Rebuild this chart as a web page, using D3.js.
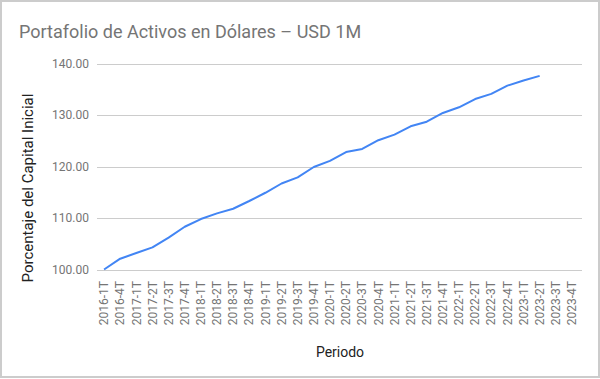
<!DOCTYPE html>
<html>
<head>
<meta charset='utf-8'>
<style>
body { margin: 0; background: #fff; }
svg { display: block; font-family: Roboto, 'Noto Sans', Arial, sans-serif; }
.grid line { stroke: #cccccc; stroke-width: 1px; }
.tick-y { fill: #757575; font-size: 12px; }
.tick-x { fill: #757575; font-size: 12px; }
</style>
</head>
<body>
<svg width="600" height="379"></svg>
<script src="https://d3js.org/d3.v7.min.js"></script>
<script>

// periodos (trimestres) del eje x
var periodos = ["2016-1T","2016-4T",
  "2017-1T","2017-2T","2017-3T","2017-4T",
  "2018-1T","2018-2T","2018-3T","2018-4T",
  "2019-1T","2019-2T","2019-3T","2019-4T",
  "2020-1T","2020-2T","2020-3T","2020-4T",
  "2021-1T","2021-2T","2021-3T","2021-4T",
  "2022-1T","2022-2T","2022-3T","2022-4T",
  "2023-1T","2023-2T","2023-3T","2023-4T"];

// porcentaje del capital inicial (hasta 2023-2T)
var valores = [100.0, 102.1, 103.2, 104.3, 106.2, 108.3, 109.8, 110.9, 111.8, 113.3,
  114.9, 116.7, 117.9, 119.9, 121.1, 122.8, 123.4, 125.1, 126.2, 127.8,
  128.7, 130.4, 131.5, 133.1, 134.1, 135.7, 136.7, 137.6];

var yTicks = [100, 110, 120, 130, 140];

var svg = d3.select('svg'),
    width = 600,
    height = 379;

// borde del gráfico
svg.append('rect')
  .attr('x', 1).attr('y', 1)
  .attr('width', width - 2).attr('height', height - 3)
  .attr('fill', '#fff')
  .attr('stroke', '#cccccc')
  .attr('stroke-width', 2);

var x = d3.scaleBand().domain(periodos).range([96, 580]),
    y = d3.scaleLinear().domain([100, 140]).range([269.5, 63.5]);

var xc = function(d) { return x(d) + x.bandwidth() / 2; };

// title
svg.append('text')
  .attr('x', 19).attr('y', 38)
  .attr('fill', '#757575')
  .attr('font-size', '18px')
  .text('Portafolio de Activos en Dólares – USD 1M');

// gridlines
svg.append('g').attr('class', 'grid')
  .selectAll('line')
  .data(yTicks)
  .enter().append('line')
    .attr('x1', 97).attr('x2', 582)
    .attr('y1', function(d) { return Math.round(y(d)) + 0.5; })
    .attr('y2', function(d) { return Math.round(y(d)) + 0.5; });

svg.append('g')
  .selectAll('text')
  .data(yTicks)
  .enter().append('text')
    .attr('class', 'tick-y')
    .attr('x', 89)
    .attr('y', function(d) { return y(d); })
    .attr('dy', '0.35em')
    .attr('text-anchor', 'end')
    .text(function(d) { return d3.format('.2f')(d); });

// etiquetas x rotadas
svg.append('g')
  .selectAll('text')
  .data(periodos)
  .enter().append('text')
    .attr('class', 'tick-x')
    .attr('text-anchor', 'end')
    .attr('dy', '0.35em')
    .attr('transform', function(d) { return 'translate(' + xc(d) + ',281) rotate(-90)'; })
    .text(function(d) { return d; });

// axis titles
svg.append('text')
  .attr('transform', 'translate(33,188) rotate(-90)')
  .attr('text-anchor', 'middle')
  .attr('fill', '#222')
  .attr('font-size', '15px')
  .text('Porcentaje del Capital Inicial');

svg.append('text')
  .attr('x', 340).attr('y', 357)
  .attr('text-anchor', 'middle')
  .attr('fill', '#222')
  .attr('font-size', '14px')
  .text('Periodo');

// la serie
var line = d3.line()
  .x(function(d, i) { return xc(periodos[i]); })
  .y(function(d) { return y(d); });

svg.append('path')
  .datum(valores)
  .attr('d', line)
  .attr('fill', 'none')
  .attr('stroke', '#4285f4')
  .attr('stroke-width', 2)
  .attr('stroke-linejoin', 'round');

</script>
</body>
</html>
